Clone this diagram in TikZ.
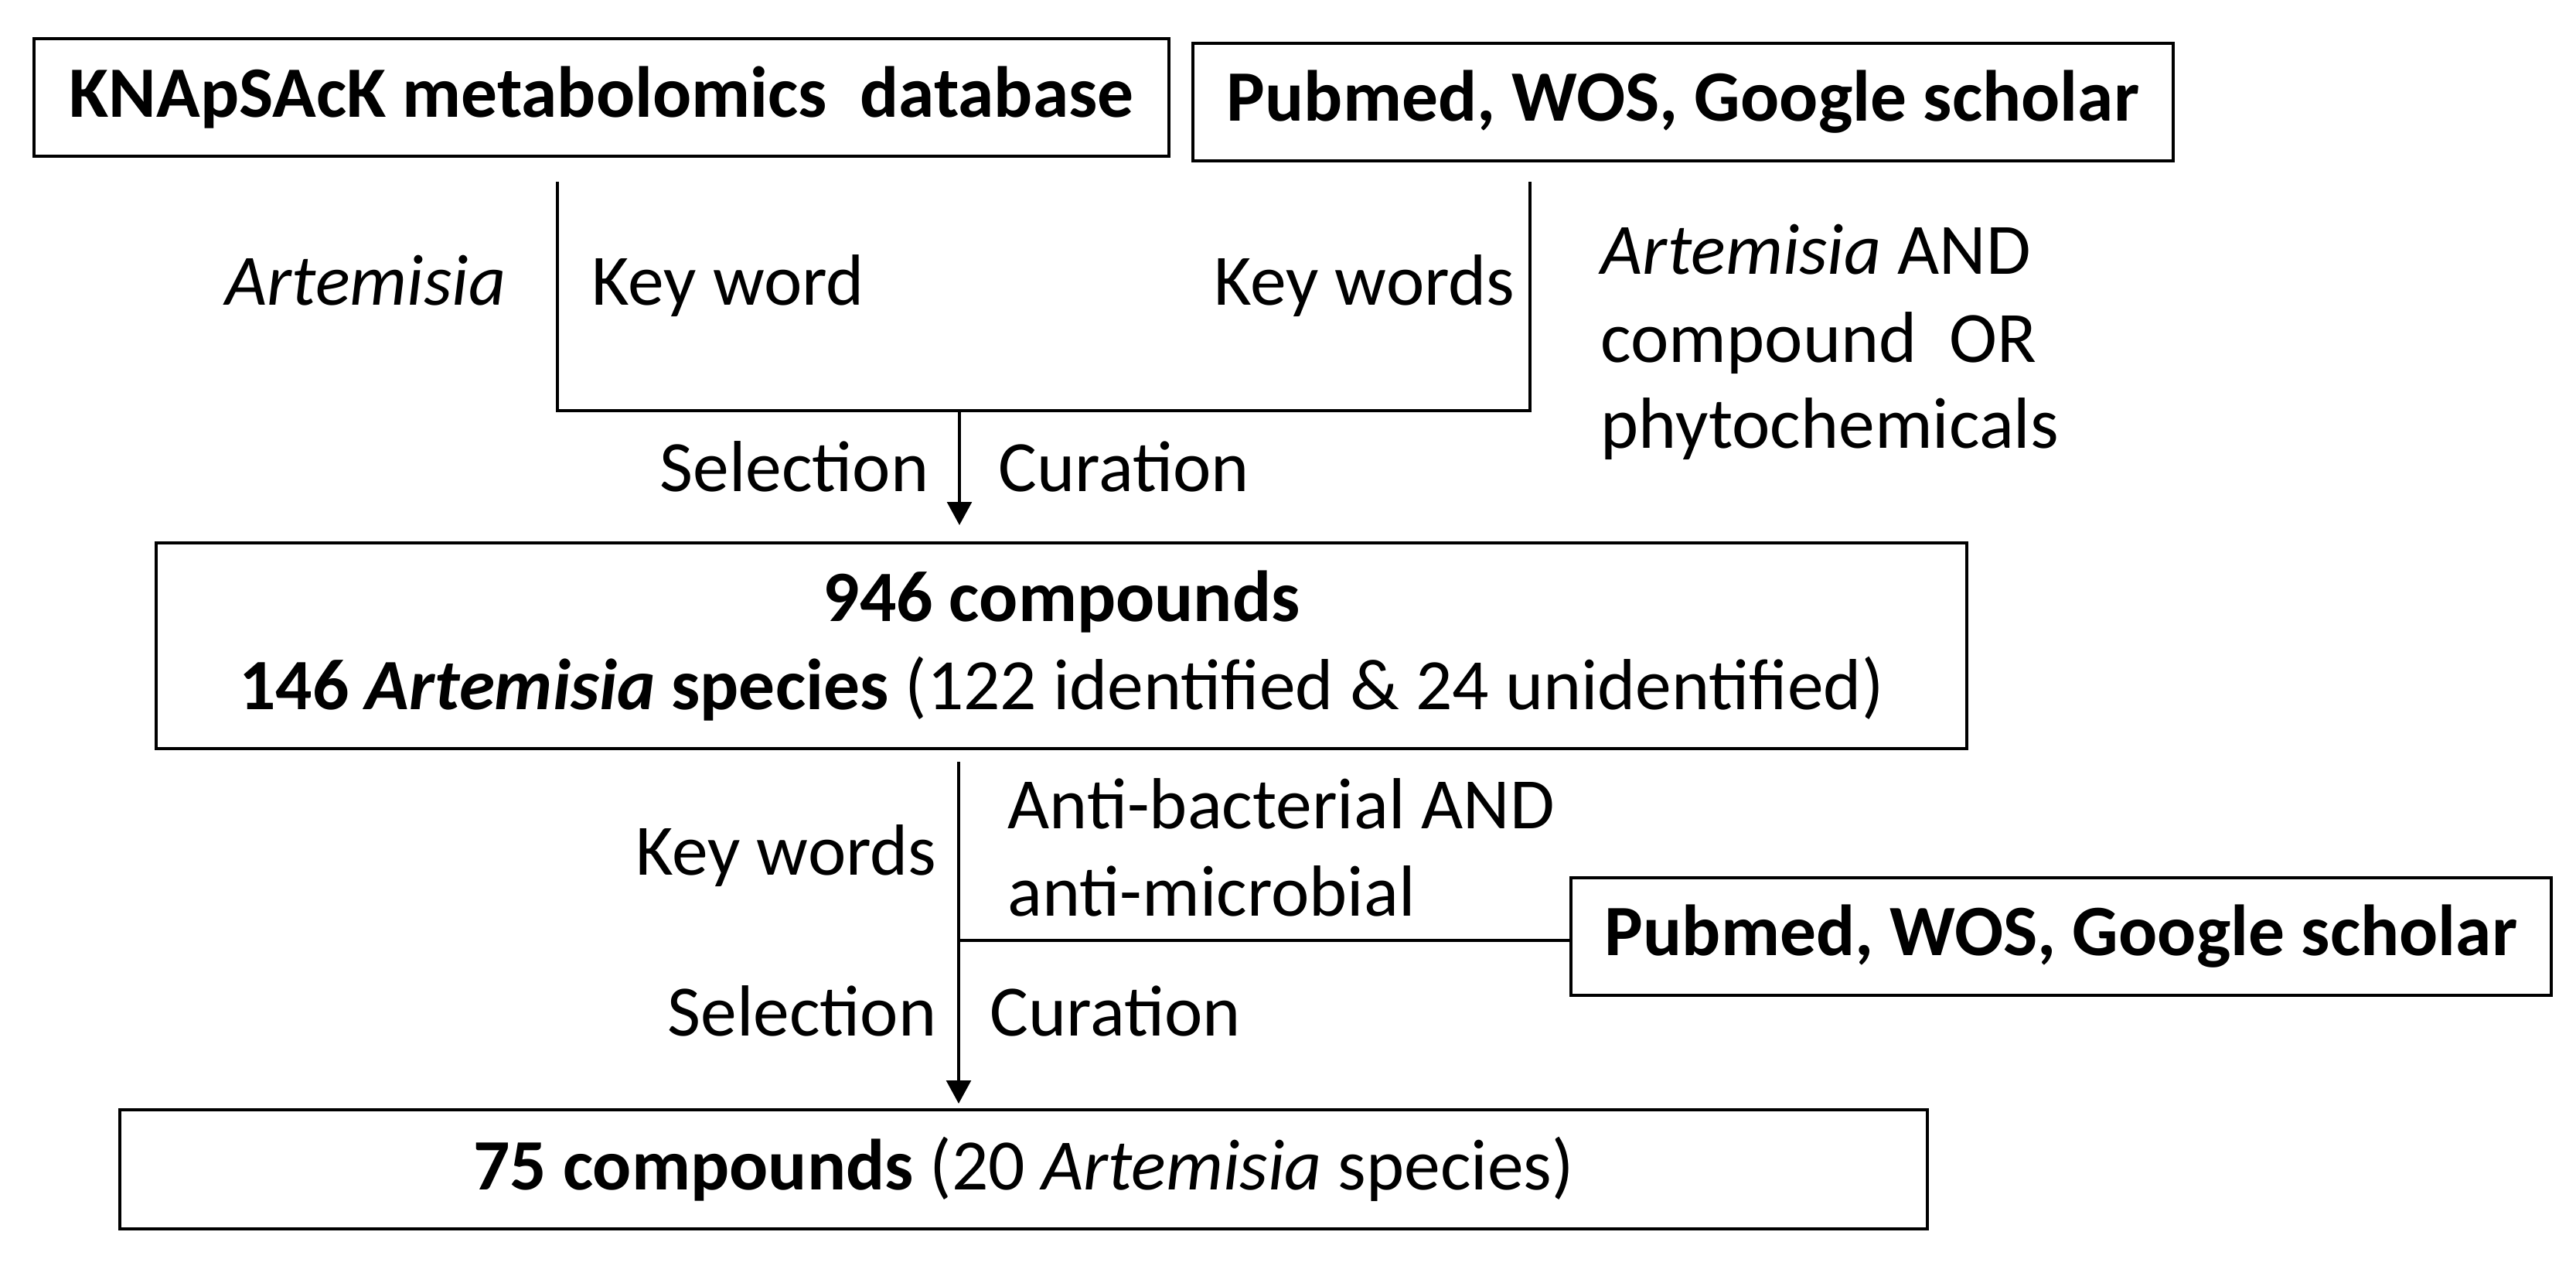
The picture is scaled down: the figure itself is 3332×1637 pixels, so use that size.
\documentclass[tikz,border=0pt]{standalone}
\usepackage{fontspec}
\setmainfont{Carlito}
\usetikzlibrary{arrows.meta}

\begin{document}
\begin{tikzpicture}
	[x=0.01cm, y=-0.01cm, line width=1pt,
	 txt/.style={inner sep=0pt, font=\fontsize{26.6}{32.4}\selectfont},
	 box/.style={draw, txt, align=center, line width=1.1pt},
	 arr/.style={-{Triangle[length=8.5pt,width=9pt]}}]
	\useasboundingbox (0,0) rectangle (3332,1637);
	% boxes
	\node[box, minimum width=14.67cm, minimum height=1.52cm] (knap) at (778,126)
		{\textbf{KNApSAcK metabolomics \ database}};
	\node[box, minimum width=12.68cm, minimum height=1.52cm] (pubA) at (2177,132)
		{\textbf{Pubmed, WOS, Google scholar}};
	\node[box, minimum width=23.40cm, minimum height=2.66cm] (found) at (1373,835)
		{\textbf{946 compounds}\\
		 \textbf{146 \textit{Artemisia} species} (122 identified \& 24 unidentified)};
	\node[box, minimum width=12.68cm, minimum height=1.52cm] (pubB) at (2666,1211)
		{\textbf{Pubmed, WOS, Google scholar}};
	\node[box, minimum width=23.36cm, minimum height=1.54cm] (final) at (1324,1512)
		{\textbf{75 compounds} (20 \textit{Artemisia} species)};
	% joints
	\coordinate (kTop) at (721,235);
	\coordinate (kBot) at (721,531);
	\coordinate (pTop) at (1979,235);
	\coordinate (pBot) at (1979,531);
	\coordinate (selA) at (1241,531);
	\coordinate (tipA) at (1241,679);
	\coordinate (selB) at (1240,985);
	\coordinate (tipB) at (1240,1427);
	\coordinate (midB) at (1240,1216);
	% connectors
	\draw (kTop) -- (kBot) -- (pBot) -- (pTop);
	\draw[arr] (selA) -- (tipA);
	\draw[arr] (selB) -- (tipB);
	\draw (midB) -- (midB -| pubB.west);
	% labels
	\node[txt, anchor=base east] (artA) at (656,395) {\textit{Artemisia}};
	\node[txt, anchor=base west] (kwA) at (764,395) {Key word};
	\node[txt, anchor=base east] (kwB) at (1961,395) {Key words};
	\node[txt, anchor=base west] (qA1) at (2069,355) {\textit{Artemisia} AND};
	\node[txt, anchor=base west] (qA2) at (2069,469) {compound \ OR};
	\node[txt, anchor=base west] (qA3) at (2069,580) {phytochemicals};
	\node[txt, anchor=base east] (selTA) at (1203,636) {Selection};
	\node[txt, anchor=base west] (curTA) at (1290,636) {Curation};
	\node[txt, anchor=base east] (kwC) at (1213,1131) {Key words};
	\node[txt, anchor=base west] (qB1) at (1302,1072) {Anti-bacterial AND};
	\node[txt, anchor=base west] (qB2) at (1302,1185) {anti-microbial};
	\node[txt, anchor=base east] (selTB) at (1213,1339) {Selection};
	\node[txt, anchor=base west] (curTB) at (1279,1339) {Curation};
\end{tikzpicture}
\end{document}
